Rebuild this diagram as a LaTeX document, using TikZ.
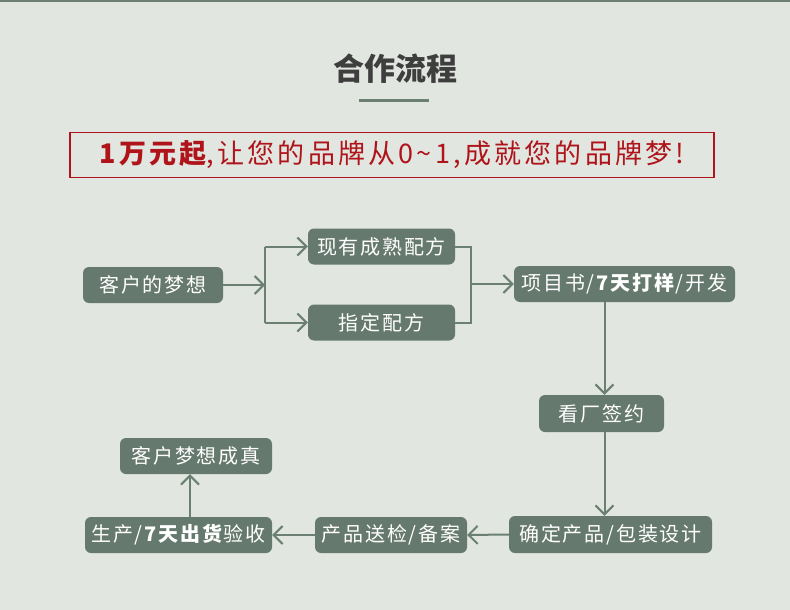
\documentclass[tikz,border=0pt]{standalone}
\usepackage{fontspec}
\setmainfont{Noto Sans CJK SC}
\newfontfamily\nodefont{Noto Sans CJK SC}[LetterSpace=9]
\newfontfamily\bannerfont{Noto Sans CJK SC}[LetterSpace=12]
\usetikzlibrary{arrows.meta}
\definecolor{bg}{HTML}{E1E6E0}
\definecolor{nodefill}{HTML}{66796E}
\definecolor{linecol}{HTML}{6B8072}
\definecolor{titlecol}{HTML}{3E3E3E}
\definecolor{redcol}{HTML}{B0141B}
\tikzset{
  box/.style={fill=nodefill, rounded corners=6pt, text=white, minimum height=36pt, inner sep=0pt, font=\nodefont\fontsize{20}{20}\selectfont},
  conn/.style={draw=linecol, line width=2pt},
  arr/.style={conn, -{Straight Barb[length=9pt,width=18pt,line width=2pt]}},
}
\begin{document}
\begin{tikzpicture}[x=1pt,y=-1pt]
\fill[bg] (0,0) rectangle (790,610);
\useasboundingbox (0,0) rectangle (790,610);
\fill[linecol] (0,0) rectangle (790,2);
% title
\node[text=titlecol, font=\fontsize{31}{31}\selectfont\bfseries, inner sep=0pt] (title) at (395,69) {合作流程};
\fill[linecol] (359,98.5) rectangle (429,101.5);
% banner
\node[draw=redcol, line width=1.2pt, minimum width=644pt, minimum height=45pt, inner sep=0pt, text=redcol, font=\bannerfont\fontsize{27}{27}\selectfont] (banner) at (392,155) {\raisebox{-1.5pt}{\textbf{1万元起},让您的品牌从0\char"007E 1,成就您的品牌梦!}};
% nodes
\node[box, minimum width=140pt] (dream) at (153,285) {客户的梦想};
\node[box, minimum width=147pt] (exist) at (381.5,246.5) {现有成熟配方};
\node[box, minimum width=147pt] (spec) at (381.5,322.5) {指定配方};
\node[box, minimum width=221pt] (proj) at (624.5,284) {项目书/\textbf{7天打样}/开发};
\node[box, minimum width=125pt, minimum height=37pt] (sign) at (601.5,413.5) {看厂签约};
\node[box, minimum width=203pt, minimum height=37pt] (conf) at (610.5,534.5) {确定产品/包装设计};
\node[box, minimum width=152pt] (insp) at (391,535) {产品送检/备案};
\node[box, minimum width=187pt] (prod) at (178.5,535) {生产/\textbf{7天出货}验收};
\node[box, minimum width=152pt] (real) at (196,456) {客户梦想成真};
% connectors
\coordinate (bx) at (265,285);
\coordinate (mx) at (471,284);
\coordinate (vx) at (604.5,0);
\coordinate (ux) at (190,0);
\draw[arr] (dream.east) -- (bx);
\draw[conn] (exist.west -| bx) -- (spec.west -| bx);
\draw[arr] (exist.west -| bx) -- (exist.west);
\draw[arr] (spec.west -| bx) -- (spec.west);
\draw[conn] (exist.east) -| (mx) |- (spec.east);
\draw[arr] (mx) -- (proj.west);
\draw[arr] (proj.south -| vx) -- (sign.north -| vx);
\draw[arr] (sign.south -| vx) -- (conf.north -| vx);
\draw[arr] (conf.west) -- (insp.east);
\draw[arr] (insp.west) -- (prod.east);
\draw[arr] (prod.north -| ux) -- (real.south -| ux);
\end{tikzpicture}
\end{document}
